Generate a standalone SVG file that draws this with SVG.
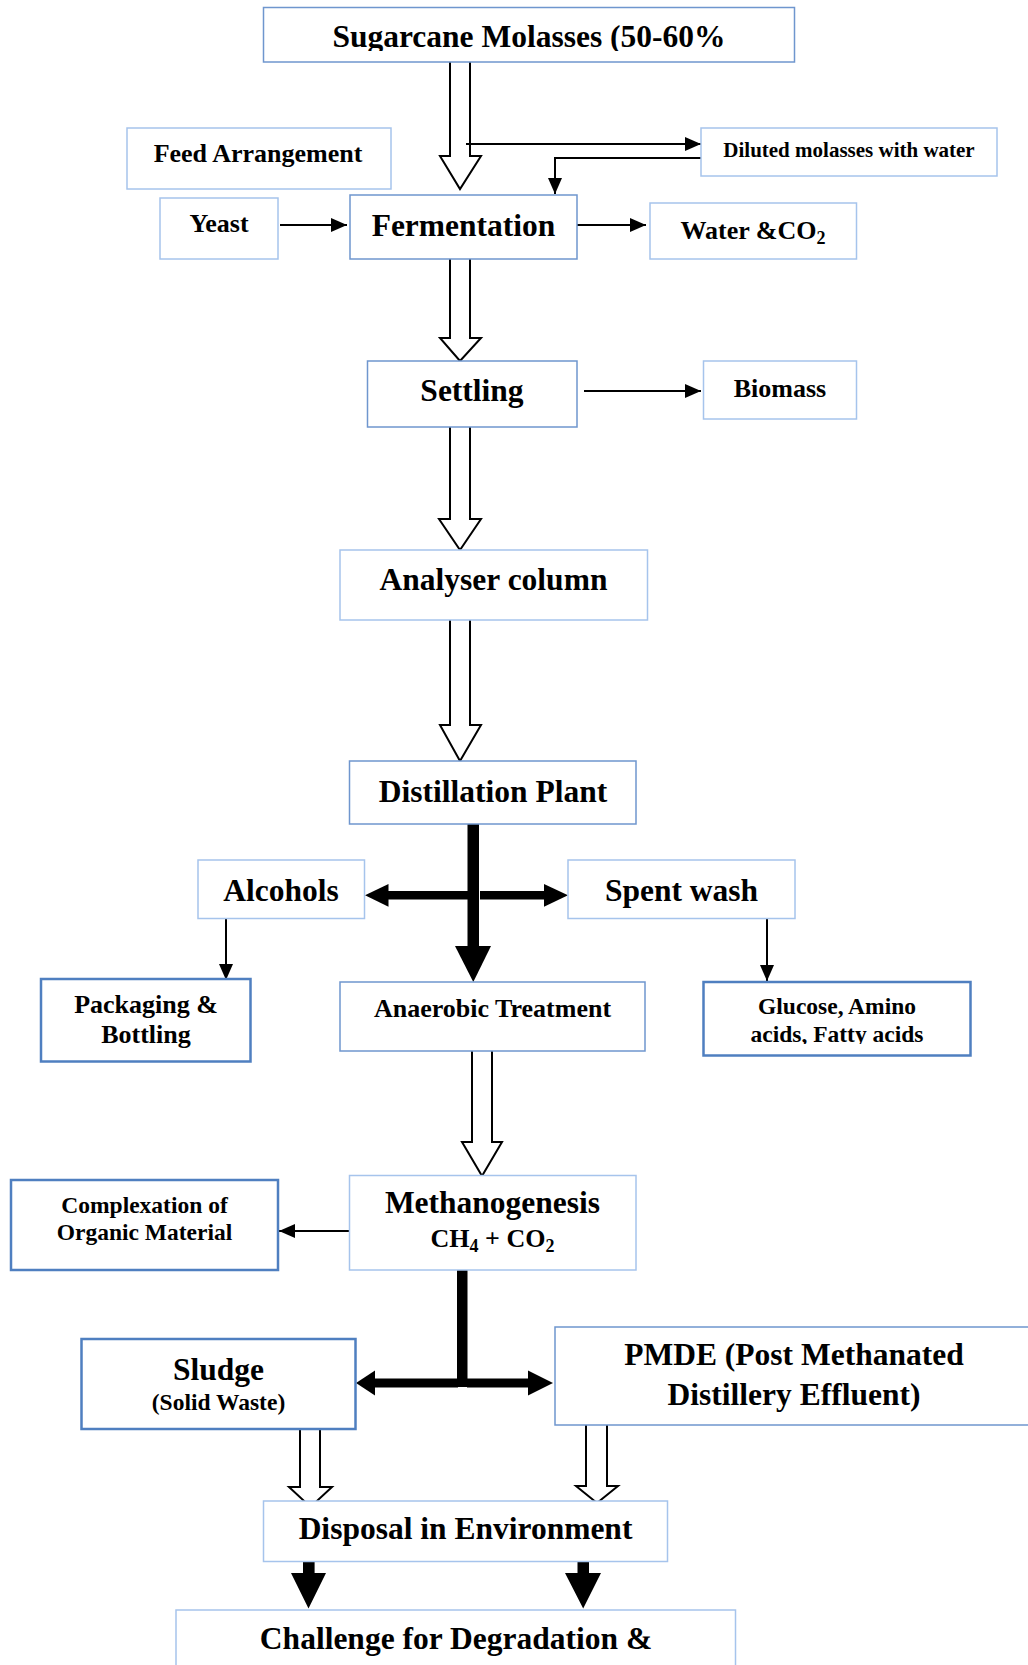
<svg xmlns="http://www.w3.org/2000/svg" width="1028" height="1665" viewBox="0 0 1028 1665">
<style>
text{font-family:"Liberation Serif","Times New Roman",serif;font-weight:bold;fill:#000;text-anchor:middle}
.bx{fill:#fff}
.mid{stroke:#6F96CE;stroke-width:1.5}
.lt{stroke:#A6C4EC;stroke-width:1.5}
.dk{stroke:#4F7FC0;stroke-width:2.5}
.hol{fill:#fff;stroke:#000;stroke-width:2;stroke-linejoin:miter}
.thin{fill:none;stroke:#000;stroke-width:2}
.blk{fill:#000;stroke:none}
.f31{font-size:31.5px}
.f26{font-size:26px}
</style>
<defs>
<marker id="ah" markerUnits="userSpaceOnUse" markerWidth="18" markerHeight="16" refX="16" refY="7" orient="auto">
<path d="M0,0 L16,7 L0,14 Z" fill="#000"/>
</marker>
<clipPath id="clipSug"><rect x="263" y="0" width="532" height="51"/></clipPath>
<clipPath id="clipGlu"><rect x="700" y="981" width="275" height="63"/></clipPath>
</defs>

<g id="connectors">
<!-- hollow arrows -->
<path class="hol" d="M450,62 V156 H440 L460,189 L481,156 H470 V62"/>
<path class="hol" d="M450,259 V338 H440 L460,361 L481,338 H470 V259"/>
<path class="hol" d="M450,427 V519 H439 L460,550 L481,519 H470 V427"/>
<path class="hol" d="M450,620 V725 H440 L460,761 L481,725 H470 V620"/>
<path class="hol" d="M472,1051 V1142 H462 L482,1176 L502,1142 H492 V1051"/>
<path class="hol" d="M300,1429 V1487 H289 L310.5,1507 L332,1487 H320 V1429"/>
<path class="hol" d="M586,1425 V1486 H576 L597,1503 L618,1486 H607 V1425"/>
<!-- thin arrows -->
<line class="thin" x1="466" y1="144" x2="701" y2="144" marker-end="url(#ah)"/>
<polyline class="thin" points="701,158 555,158 555,194" marker-end="url(#ah)"/>
<line class="thin" x1="280" y1="225" x2="347" y2="225" marker-end="url(#ah)"/>
<line class="thin" x1="577" y1="225" x2="646" y2="225" marker-end="url(#ah)"/>
<line class="thin" x1="584" y1="391" x2="701" y2="391" marker-end="url(#ah)"/>
<line class="thin" x1="226" y1="919" x2="226" y2="980" marker-end="url(#ah)"/>
<line class="thin" x1="767" y1="919" x2="767" y2="981" marker-end="url(#ah)"/>
<line class="thin" x1="349" y1="1231" x2="279" y2="1231" marker-end="url(#ah)"/>
<!-- thick junction from Distillation -->
<rect class="blk" x="467.5" y="824" width="11.5" height="123"/>
<path class="blk" d="M455,946 L491,946 L473.3,982 Z"/>
<rect class="blk" x="387" y="891" width="81" height="8.5"/>
<path class="blk" d="M388.5,884 L365,895.3 L388.5,906.7 Z"/>
<rect class="blk" x="480" y="891" width="65" height="8.5"/>
<path class="blk" d="M544,884 L568,895.3 L544,906.7 Z"/>
<!-- thick junction from Methanogenesis -->
<rect class="blk" x="457" y="1270" width="10.5" height="117"/>
<rect class="blk" x="374" y="1378.5" width="84" height="9"/>
<path class="blk" d="M375,1370.5 L356,1383 L375,1395.5 Z"/>
<rect class="blk" x="467" y="1378.5" width="62" height="9"/>
<path class="blk" d="M528,1370.5 L553,1383 L528,1395.5 Z"/>
<!-- black arrows to Challenge -->
<path class="blk" d="M303,1562 H314.6 V1573 H326 L308.5,1608.5 L291,1573 H303 Z"/>
<path class="blk" d="M577.5,1562 H589 V1573 H601 L583.2,1608.5 L565,1573 H577.5 Z"/>
</g>

<g id="sugarcane">
<rect class="bx mid" x="263.5" y="7.5" width="531" height="54.5"/>
<text class="f31" x="529" y="47" clip-path="url(#clipSug)">Sugarcane Molasses (50-60%</text>
</g>
<g id="feed">
<rect class="bx lt" x="127" y="128" width="264" height="61"/>
<text font-size="26" x="258" y="162">Feed Arrangement</text>
</g>
<g id="diluted">
<rect class="bx lt" x="701" y="128" width="296" height="48"/>
<text font-size="21" x="849" y="157">Diluted molasses with water</text>
</g>
<g id="yeast">
<rect class="bx lt" x="160" y="198" width="118" height="61"/>
<text class="f26" x="219" y="232">Yeast</text>
</g>
<g id="fermentation">
<rect class="bx mid" x="350" y="195" width="227" height="64"/>
<text class="f31" x="463.5" y="236">Fermentation</text>
</g>
<g id="water">
<rect class="bx lt" x="650" y="203" width="206.5" height="56"/>
<text class="f26" x="753" y="239">Water &amp;CO<tspan font-size="18" dy="5">2</tspan></text>
</g>
<g id="settling">
<rect class="bx mid" x="367.5" y="361" width="209.5" height="66"/>
<text class="f31" x="472" y="401">Settling</text>
</g>
<g id="biomass">
<rect class="bx lt" x="703.5" y="361" width="153" height="58"/>
<text class="f26" x="780" y="396.5">Biomass</text>
</g>
<g id="analyser">
<rect class="bx lt" x="340" y="550" width="307.5" height="70"/>
<text class="f31" x="493.5" y="590">Analyser column</text>
</g>
<g id="distillation">
<rect class="bx mid" x="349.5" y="761" width="286.5" height="63"/>
<text class="f31" x="493" y="801.5">Distillation Plant</text>
</g>
<g id="alcohols">
<rect class="bx lt" x="198" y="860" width="166.5" height="58.5"/>
<text class="f31" x="281" y="901">Alcohols</text>
</g>
<g id="spentwash">
<rect class="bx lt" x="568" y="860" width="227" height="58.5"/>
<text class="f31" x="681.5" y="901">Spent wash</text>
</g>
<g id="packaging">
<rect class="bx dk" x="41" y="979" width="209.5" height="82.5"/>
<text class="f26" x="146" y="1013">Packaging &amp;</text>
<text class="f26" x="146" y="1043">Bottling</text>
</g>
<g id="anaerobic">
<rect class="bx mid" x="340" y="982" width="305" height="69"/>
<text class="f26" x="492.5" y="1016.5">Anaerobic Treatment</text>
</g>
<g id="glucose">
<rect class="bx dk" x="703.5" y="982" width="267" height="73.5"/>
<g clip-path="url(#clipGlu)">
<text font-size="23.5" x="837" y="1014">Glucose, Amino</text>
<text font-size="23.5" x="837" y="1041.5">acids, Fatty acids</text>
</g>
</g>
<g id="methanogenesis">
<rect class="bx lt" x="349.5" y="1175.5" width="286.5" height="94.5"/>
<text class="f31" x="492.5" y="1213">Methanogenesis</text>
<text class="f26" x="492.5" y="1247">CH<tspan font-size="18" dy="5">4</tspan><tspan dy="-5"> + CO</tspan><tspan font-size="18" dy="5">2</tspan></text>
</g>
<g id="complexation">
<rect class="bx dk" x="11" y="1180" width="267" height="90"/>
<text font-size="23.5" x="144.5" y="1212.5">Complexation of</text>
<text font-size="23.5" x="144.5" y="1240">Organic Material</text>
</g>
<g id="sludge">
<rect class="bx dk" x="81.5" y="1339" width="274" height="90"/>
<text class="f31" x="218.5" y="1380">Sludge</text>
<text font-size="23.5" x="218.5" y="1410">(Solid Waste)</text>
</g>
<g id="pmde">
<rect class="bx mid" x="555" y="1327" width="490" height="98"/>
<text class="f31" x="794" y="1365">PMDE (Post Methanated</text>
<text class="f31" x="794" y="1405">Distillery Effluent)</text>
</g>
<g id="disposal">
<rect class="bx lt" x="263.5" y="1501" width="404" height="60.5"/>
<text class="f31" x="465.5" y="1539">Disposal in Environment</text>
</g>
<g id="challenge">
<rect class="bx lt" x="176" y="1610" width="559.5" height="70"/>
<text class="f31" x="456" y="1649">Challenge for Degradation &amp;</text>
</g>
</svg>
